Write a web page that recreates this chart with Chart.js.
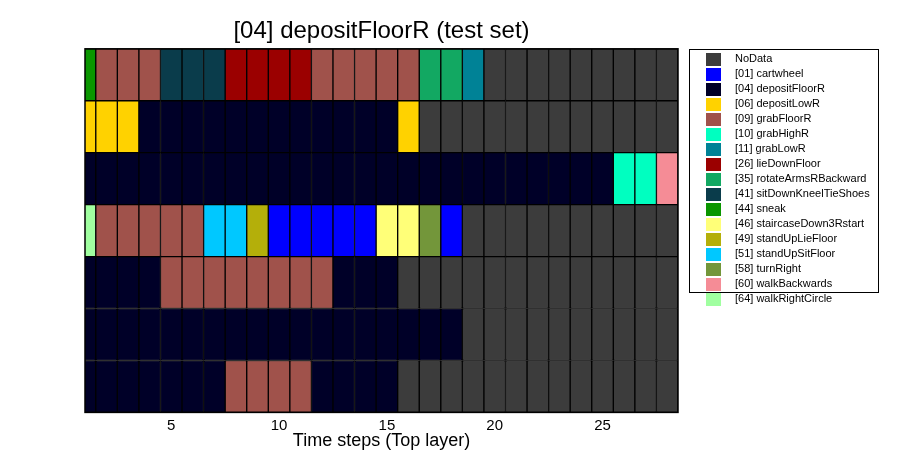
<!DOCTYPE html>
<html>
<head>
<meta charset="utf-8">
<script src="https://cdn.jsdelivr.net/npm/chart.js@4.4.1/dist/chart.umd.min.js"></script>
<style>
  html, body { margin: 0; padding: 0; background: #ffffff; }
  #wrap { width: 905px; height: 464px; }
</style>
</head>
<body>
<div id="wrap"><canvas id="c" width="905" height="464"></canvas></div>
<script>
// ---------- data ----------
const titleText = '[04] depositFloorR (test set)';
const xAxisTitle = 'Time steps (Top layer)';
const tickValues = [5, 10, 15, 20, 25];
const timeSteps = [1,2,3,4,5,6,7,8,9,10,11,12,13,14,15,16,17,18,19,20,21,22,23,24,25,26,27,28];
const rowNames = ['L1','L2','L3','L4','L5','L6','L7'];

// class codes (0 = NoData), labels and colours
const classCodes  = [0, 1, 4, 6, 9, 10, 11, 26, 35, 41, 44, 46, 49, 51, 58, 60, 64];
const classLabels = ['NoData','[01] cartwheel','[04] depositFloorR','[06] depositLowR','[09] grabFloorR',
  '[10] grabHighR','[11] grabLowR','[26] lieDownFloor','[35] rotateArmsRBackward','[41] sitDownKneelTieShoes',
  '[44] sneak','[46] staircaseDown3Rstart','[49] standUpLieFloor','[51] standUpSitFloor','[58] turnRight',
  '[60] walkBackwards','[64] walkRightCircle'];
const classColors = ['#3c3c3c','#0000ff','#000028','#ffd200','#a0524b','#00ffc0','#008296','#9b0000',
  '#12a862','#0a3c4b','#0a9600','#ffff78','#b4af0a','#00c8ff','#73963a','#f58c96','#a0ffa0'];

// per-layer predicted class at each time step
const row1 = [44,9,9,9,41,41,41,26,26,26,26,9,9,9,9,9,35,35,11,0,0,0,0,0,0,0,0,0];
const row2 = [6,6,6,4,4,4,4,4,4,4,4,4,4,4,4,6,0,0,0,0,0,0,0,0,0,0,0,0];
const row3 = [4,4,4,4,4,4,4,4,4,4,4,4,4,4,4,4,4,4,4,4,4,4,4,4,4,10,10,60];
const row4 = [64,9,9,9,9,9,51,51,49,1,1,1,1,1,46,46,58,1,0,0,0,0,0,0,0,0,0,0];
const row5 = [4,4,4,4,9,9,9,9,9,9,9,9,4,4,4,0,0,0,0,0,0,0,0,0,0,0,0,0];
const row6 = [4,4,4,4,4,4,4,4,4,4,4,4,4,4,4,4,4,4,0,0,0,0,0,0,0,0,0,0];
const row7 = [4,4,4,4,4,4,4,9,9,9,9,4,4,4,4,0,0,0,0,0,0,0,0,0,0,0,0,0];
const rows = [row1, row2, row3, row4, row5, row6, row7];

// ---------- build datasets ----------
const FONT = "'Liberation Sans', Arial, sans-serif";
const datasets = classCodes.map((code, ci) => {
  const data = [];
  rows.forEach((r, ri) => {
    r.forEach((v, ti) => {
      if (v === code) data.push({ x: [timeSteps[ti] - 0.5, timeSteps[ti] + 0.5], y: rowNames[ri] });
    });
  });
  return {
    label: classLabels[ci],
    data: data,
    backgroundColor: classColors[ci],
    borderColor: '#000000',
    borderWidth: 1,
    borderSkipped: false,
    grouped: false,
    categoryPercentage: 1,
    barPercentage: 1,
    clip: 0
  };
});

const framePlugin = {
  id: 'frame',
  afterDatasetsDraw(chart) {
    const a = chart.chartArea, ctx = chart.ctx;
    ctx.save();
    ctx.strokeStyle = '#000';
    ctx.lineWidth = 1.5;
    ctx.strokeRect(a.left, a.top, a.right - a.left, a.bottom - a.top);
    ctx.restore();
  }
};

const legendPlugin = {
  id: 'boxLegend',
  afterDraw(chart) {
    const ctx = chart.ctx;
    const bx = 689, by = 49, bw = 189, bh = 243;
    ctx.save();
    ctx.strokeStyle = '#000';
    ctx.lineWidth = 1;
    ctx.strokeRect(bx + 0.5, by + 0.5, bw, bh);
    ctx.font = '11px ' + FONT;
    ctx.textBaseline = 'middle';
    ctx.textAlign = 'left';
    classLabels.forEach((lab, i) => {
      const cy = by + 9.7 + i * 15;
      ctx.fillStyle = classColors[i];
      ctx.fillRect(706, Math.round(cy - 6), 15, 13);
      ctx.fillStyle = '#000';
      ctx.fillText(lab, 735, cy + 0.5);
    });
    ctx.restore();
  }
};

new Chart(document.getElementById('c'), {
  type: 'bar',
  data: { labels: rowNames, datasets: datasets },
  options: {
    indexAxis: 'y',
    responsive: false,
    animation: false,
    layout: { padding: { left: 85, right: 227, top: 0, bottom: 12 } },
    plugins: {
      legend: { display: false },
      tooltip: { enabled: false },
      title: {
        display: true,
        text: titleText,
        fullSize: false,
        color: '#000',
        font: { family: FONT, size: 24, weight: 'normal' },
        padding: { top: 17, bottom: 3 }
      }
    },
    scales: {
      y: { type: 'category', display: false, offset: true },
      x: {
        type: 'linear',
        min: 1,
        max: 28.5,
        grid: { display: false, drawTicks: false, tickLength: 0 },
        border: { display: false },
        afterBuildTicks(scale) { scale.ticks = tickValues.map(v => ({ value: v })); },
        ticks: {
          color: '#000',
          padding: 4,
          maxRotation: 0,
          font: { family: FONT, size: 15 },
          callback: v => String(v)
        },
        title: {
          display: true,
          text: xAxisTitle,
          color: '#000',
          font: { family: FONT, size: 18 },
          padding: { top: -8, bottom: 0 }
        }
      }
    }
  },
  plugins: [framePlugin, legendPlugin]
});
</script>
</body>
</html>
